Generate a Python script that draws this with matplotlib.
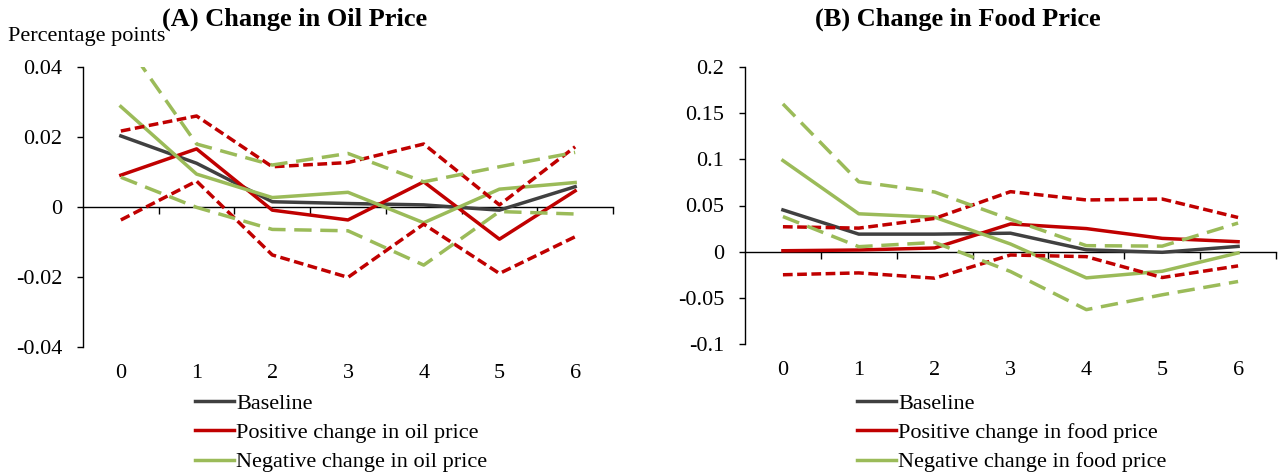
import matplotlib
matplotlib.use("Agg")
from matplotlib import pyplot as plt
import numpy as np

plt.rcParams['font.family'] = ['Liberation Serif', 'DejaVu Serif']

horizons = [0, 1, 2, 3, 4, 5, 6]

# (A) oil price
oil_base = [0.0203, 0.0125, 0.0015, 0.0010, 0.0006, -0.0009, 0.0058]
oil_pos = [0.0091, 0.0166, -0.0009, -0.0037, 0.0072, -0.0092, 0.0046]
oil_pos_hi = [0.0217, 0.0260, 0.0115, 0.0127, 0.0180, 0.0006, 0.0172]
oil_pos_lo = [-0.0037, 0.0074, -0.0137, -0.0201, -0.0049, -0.0190, -0.0085]
oil_neg = [0.0287, 0.0094, 0.0027, 0.0042, -0.0045, 0.0051, 0.0070]
oil_neg_hi = [0.0488, 0.0180, 0.0120, 0.0153, 0.0072, 0.0115, 0.0156]
oil_neg_lo = [0.0085, -0.0001, -0.0064, -0.0068, -0.0166, -0.0013, -0.0020]

# (B) food price
food_base = [0.0452, 0.0190, 0.0190, 0.0200, 0.0020, -0.0007, 0.0057]
food_pos = [0.0010, 0.0018, 0.0040, 0.0300, 0.0250, 0.0144, 0.0108]
food_pos_hi = [0.0270, 0.0255, 0.0360, 0.0650, 0.0560, 0.0570, 0.0370]
food_pos_lo = [-0.0250, -0.0230, -0.0287, -0.0036, -0.0054, -0.0280, -0.0154]
food_neg = [0.0987, 0.0410, 0.0373, 0.0083, -0.0284, -0.0212, -0.0014]
food_neg_hi = [0.1600, 0.0757, 0.0646, 0.0350, 0.0065, 0.0060, 0.0310]
food_neg_lo = [0.0380, 0.0054, 0.0100, -0.0215, -0.0628, -0.0467, -0.0323]

GRAY = "#404040"
RED = "#C00000"
GREEN = "#9BBB59"
LW = 2.5


def draw_panel(ax, base, pos, pos_hi, pos_lo, neg, neg_hi, neg_lo,
               ylim, yticks, ylabels, what):
    x = np.array(horizons)
    ax.plot(x, base, color=GRAY, lw=LW, label="Baseline")
    ax.plot(x, pos, color=RED, lw=LW, label=f"Positive change in {what} price")
    ax.plot(x, neg, color=GREEN, lw=LW, label=f"Negative change in {what} price")
    ax.plot(x, pos_hi, color=RED, lw=LW, dashes=(2.8, 1.3))
    ax.plot(x, pos_lo, color=RED, lw=LW, dashes=(2.8, 1.3))
    ax.plot(x, neg_hi, color=GREEN, lw=LW, dashes=(5, 2.5))
    ax.plot(x, neg_lo, color=GREEN, lw=LW, dashes=(5, 2.5))

    ax.set_xlim(-0.5, 6.5)
    ax.set_ylim(*ylim)
    for s in ("top", "right", "bottom"):
        ax.spines[s].set_visible(False)
    ax.spines["left"].set_linewidth(1.0)
    ax.set_yticks(yticks)
    ax.set_yticklabels(ylabels, fontsize=16)
    ax.tick_params(axis="y", direction="out", length=4, width=1, pad=11)
    ax.set_xticks(horizons)
    ax.set_xticklabels([str(h) for h in horizons], fontsize=16)
    ax.tick_params(axis="x", length=0, pad=12)

    # zero line with category tick marks
    sec = ax.secondary_xaxis(0, transform=ax.transData)
    sec.spines["bottom"].set_linewidth(1.0)
    sec.set_xticks(np.arange(0.5, 7.0, 1.0))
    sec.set_xticklabels([])
    sec.tick_params(axis="x", direction="out", length=5, width=1)
    return ax


fig = plt.figure(figsize=(12.78, 4.76), dpi=100)
W, H = 1278, 476

axA = fig.add_axes([83 / W, (H - 347) / H, 530 / W, 280 / H])
draw_panel(axA, oil_base, oil_pos, oil_pos_hi, oil_pos_lo,
           oil_neg, oil_neg_hi, oil_neg_lo,
           (-0.04, 0.04), [-0.04, -0.02, 0, 0.02, 0.04],
           ["-0.04", "-0.02", "0", "0.02", "0.04"], "oil")

axB = fig.add_axes([745 / W, (H - 344) / H, 531 / W, 277 / H])
draw_panel(axB, food_base, food_pos, food_pos_hi, food_pos_lo,
           food_neg, food_neg_hi, food_neg_lo,
           (-0.1, 0.2), [-0.1, -0.05, 0, 0.05, 0.1, 0.15, 0.2],
           ["-0.1", "-0.05", "0", "0.05", "0.1", "0.15", "0.2"], "food")

fig.text(295 / W, 1 - 19 / H, "(A) Change in Oil Price", fontsize=19,
         fontweight="bold", ha="center", va="center")
fig.text(958 / W, 1 - 19 / H, "(B) Change in Food Price", fontsize=19,
         fontweight="bold", ha="center", va="center")
fig.text(8 / W, 1 - 36 / H, "Percentage points", fontsize=16, va="center", ha="left")

for ax, x0 in ((axA, 195), (axB, 857)):
    ax.legend(loc="upper left", bbox_to_anchor=(x0 / W, 1 - 393 / H),
              bbox_transform=fig.transFigure, frameon=False, fontsize=16,
              handlelength=1.75, handletextpad=0.1, labelspacing=0.4,
              borderpad=0, borderaxespad=0)

fig.savefig("out.png", dpi=100)
